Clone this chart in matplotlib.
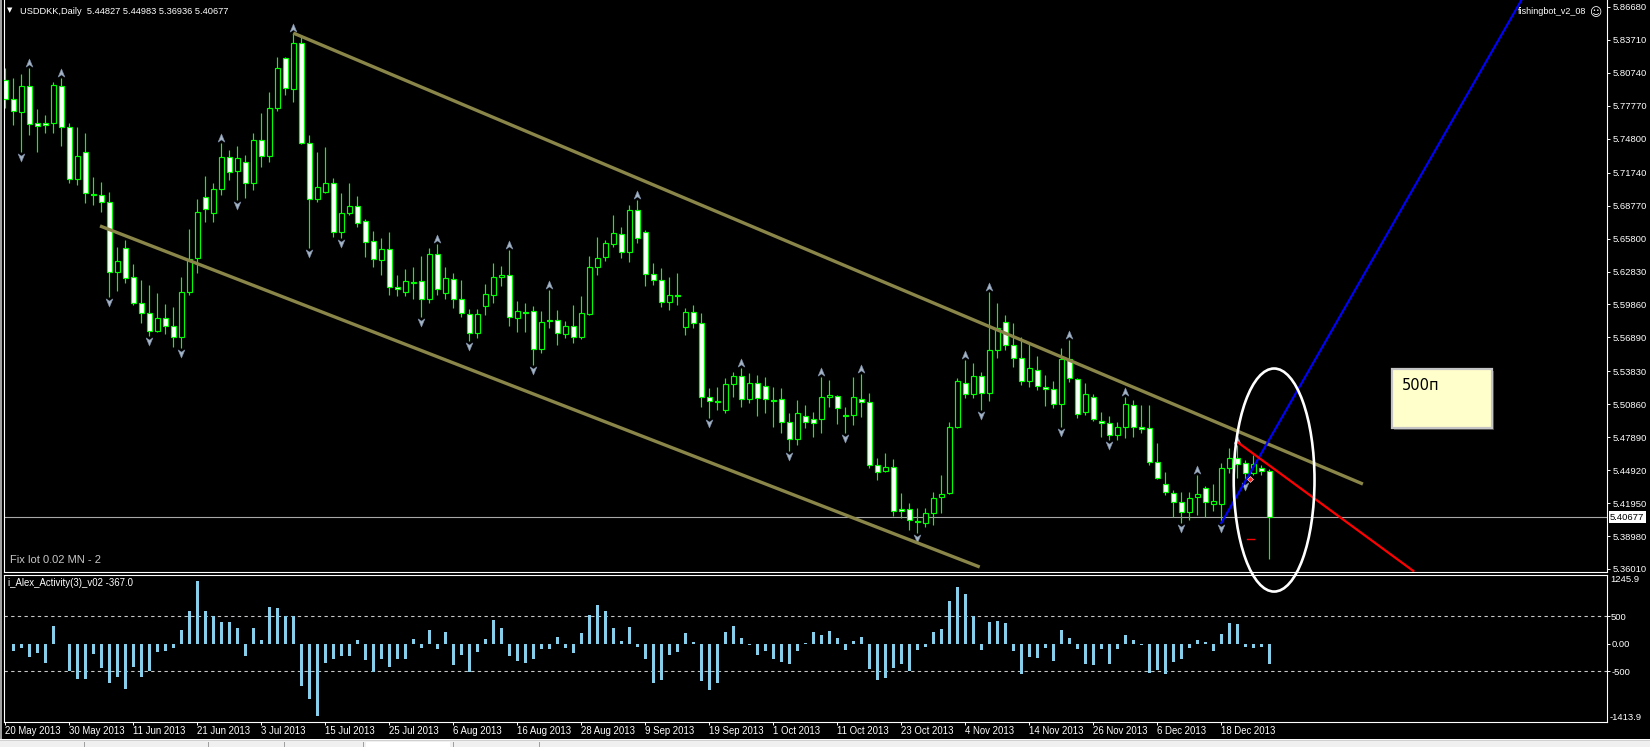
import numpy as np
import matplotlib
matplotlib.use("Agg")
import matplotlib.pyplot as plt
from matplotlib.patches import Ellipse, Rectangle, Polygon
from matplotlib.path import Path
import matplotlib.transforms as mtrans

plt.rcParams['font.family'] = ['Liberation Sans', 'DejaVu Sans']

# ---------------- data ----------------
symbol = "USDDKK,Daily"
opens = [5.8010, 5.7838, 5.7721, 5.7956, 5.7622, 5.7622, 5.7622, 5.7956, 5.7586, 5.7118,
         5.7361, 5.6982, 5.6973, 5.6910, 5.6280, 5.6496, 5.6235, 5.5999, 5.5909, 5.5747,
         5.5864, 5.5792, 5.5693, 5.6100, 5.6406, 5.6955, 5.6811, 5.7027, 5.7316, 5.7190,
         5.7271, 5.7082, 5.7469, 5.7325, 5.7757, 5.8208, 5.7929, 5.8343, 5.7442, 5.6937,
         5.7000, 5.7082, 5.6640, 5.6811, 5.6874, 5.6739, 5.6559, 5.6388, 5.6487, 5.6145,
         5.6100, 5.6181, 5.6199, 5.6037, 5.6442, 5.6091, 5.6217, 5.6037, 5.5900, 5.5729,
         5.5972, 5.6073, 5.6235, 5.6253, 5.5864, 5.5918, 5.5927, 5.5585, 5.5846, 5.5846,
         5.5720, 5.5792, 5.5693, 5.5900, 5.6325, 5.6415, 5.6532, 5.6622, 5.6460, 5.6838,
         5.6640, 5.6262, 5.6208, 5.6008, 5.6073, 5.5783, 5.5918, 5.5819, 5.5152, 5.5116,
         5.5035, 5.5269, 5.5341, 5.5134, 5.5278, 5.5251, 5.5125, 5.5134, 5.4927, 5.4773,
         5.4981, 5.4954, 5.4954, 5.5152, 5.5161, 5.4990, 5.4990, 5.5134, 5.5107, 5.4539,
         5.4485, 5.4521, 5.4142, 5.4142, 5.4034, 5.4016, 5.4106, 5.4250, 5.4286, 5.4882,
         5.5278, 5.5179, 5.5341, 5.5188, 5.5576, 5.5828, 5.5621, 5.5503, 5.5296, 5.5395,
         5.5242, 5.5224, 5.5089, 5.5494, 5.5314, 5.5017, 5.5152, 5.4936, 5.4918, 5.4809,
         5.4882, 5.5080, 5.4882, 5.4873, 5.4566, 5.4368, 5.4286, 5.4205, 5.4115, 5.4250,
         5.4331, 5.4187, 5.4187, 5.4512, 5.4602, 5.4557, 5.4467, 5.4512, 5.44827]
highs = [5.8119, 5.8028, 5.8064, 5.8119, 5.7748, 5.7694, 5.7992, 5.8028, 5.7622, 5.7586,
         5.7532, 5.7136, 5.7091, 5.7000, 5.6505, 5.6568, 5.6352, 5.6208, 5.6163, 5.6091,
         5.5990, 5.5963, 5.6235, 5.6667, 5.6937, 5.7145, 5.7082, 5.7442, 5.7379, 5.7415,
         5.7334, 5.7532, 5.7712, 5.7902, 5.8217, 5.8217, 5.8433, 5.8415, 5.7514, 5.7361,
         5.7406, 5.7127, 5.6991, 5.7082, 5.6964, 5.6757, 5.6649, 5.6586, 5.6640, 5.6253,
         5.6307, 5.6325, 5.6424, 5.6496, 5.6532, 5.6325, 5.6271, 5.6208, 5.5945, 5.5945,
         5.6172, 5.6361, 5.6334, 5.6478, 5.6017, 5.5999, 5.5972, 5.5927, 5.6118, 5.5936,
         5.5837, 5.5981, 5.6064, 5.6424, 5.6595, 5.6568, 5.6793, 5.6685, 5.6883, 5.6928,
         5.6658, 5.6361, 5.6316, 5.6235, 5.6271, 5.5954, 5.5981, 5.5909, 5.5233, 5.5242,
         5.5323, 5.5377, 5.5413, 5.5368, 5.5350, 5.5332, 5.5242, 5.5233, 5.5008, 5.5125,
         5.5080, 5.5017, 5.5332, 5.5305, 5.5170, 5.5062, 5.5332, 5.5359, 5.5188, 5.4602,
         5.4647, 5.4593, 5.4286, 5.4196, 5.4151, 5.4151, 5.4295, 5.4449, 5.4927, 5.5323,
         5.5485, 5.5458, 5.5377, 5.6100, 5.5999, 5.5891, 5.5819, 5.5693, 5.5639, 5.5521,
         5.5350, 5.5296, 5.5594, 5.5666, 5.5323, 5.5278, 5.5179, 5.5017, 5.4981, 5.4927,
         5.5152, 5.5125, 5.5080, 5.5080, 5.4737, 5.4476, 5.4313, 5.4295, 5.4295, 5.4449,
         5.4349, 5.4368, 5.4557, 5.4692, 5.4719, 5.4584, 5.4629, 5.4539, 5.44983]
lows = [5.7757, 5.7604, 5.7361, 5.7514, 5.7361, 5.7532, 5.7532, 5.7415, 5.7082, 5.7064,
        5.6901, 5.6883, 5.6820, 5.6055, 5.6109, 5.6181, 5.5981, 5.5819, 5.5702, 5.5738,
        5.5720, 5.5603, 5.5594, 5.6073, 5.6271, 5.6730, 5.6730, 5.6973, 5.7109, 5.6928,
        5.6946, 5.7018, 5.7226, 5.7271, 5.7730, 5.7874, 5.7811, 5.7433, 5.6496, 5.6910,
        5.6995, 5.6595, 5.6586, 5.6793, 5.6685, 5.6415, 5.6325, 5.6253, 5.6073, 5.6064,
        5.6064, 5.6037, 5.5873, 5.5999, 5.6073, 5.6037, 5.5954, 5.5873, 5.5657, 5.5684,
        5.5891, 5.5999, 5.6154, 5.5792, 5.5738, 5.5738, 5.5440, 5.5549, 5.5774, 5.5621,
        5.5684, 5.5639, 5.5675, 5.5891, 5.6253, 5.6379, 5.6505, 5.6406, 5.6370, 5.6541,
        5.6154, 5.6163, 5.5963, 5.5936, 5.5981, 5.5711, 5.5774, 5.5062, 5.4963, 5.5035,
        5.5008, 5.5152, 5.5062, 5.5098, 5.4981, 5.5008, 5.4882, 5.4828, 5.4665, 5.4719,
        5.4873, 5.4791, 5.4828, 5.5062, 5.4909, 5.4828, 5.4900, 5.4972, 5.4512, 5.4404,
        5.4476, 5.4079, 5.4061, 5.3953, 5.3926, 5.3980, 5.3998, 5.4106, 5.4280, 5.4873,
        5.5143, 5.5143, 5.5035, 5.5116, 5.5503, 5.5576, 5.5422, 5.5260, 5.5242, 5.5215,
        5.5071, 5.5053, 5.4882, 5.5287, 5.4963, 5.4990, 5.4936, 5.4791, 5.4764, 5.4764,
        5.4782, 5.4791, 5.4828, 5.4539, 5.4413, 5.4268, 5.4070, 5.4016, 5.4043, 5.4088,
        5.4070, 5.4124, 5.4016, 5.4467, 5.4422, 5.4395, 5.4449, 5.4449, 5.36936]
closes = [5.7838, 5.7730, 5.7956, 5.7613, 5.7595, 5.7604, 5.7965, 5.7586, 5.7118, 5.7325,
          5.6991, 5.6973, 5.6910, 5.6280, 5.6379, 5.6226, 5.5999, 5.5909, 5.5747, 5.5864,
          5.5792, 5.5693, 5.6100, 5.6397, 5.6820, 5.6847, 5.7027, 5.7316, 5.7181, 5.7307,
          5.7082, 5.7469, 5.7325, 5.7757, 5.8119, 5.7938, 5.8343, 5.7442, 5.6937, 5.7045,
          5.7082, 5.6640, 5.6811, 5.6874, 5.6721, 5.6550, 5.6397, 5.6487, 5.6145, 5.6127,
          5.6199, 5.6190, 5.6037, 5.6442, 5.6127, 5.6226, 5.6037, 5.5909, 5.5729, 5.5900,
          5.6082, 5.6235, 5.6253, 5.5873, 5.5927, 5.5909, 5.5585, 5.5828, 5.5837, 5.5729,
          5.5792, 5.5693, 5.5909, 5.6325, 5.6406, 5.6541, 5.6631, 5.6460, 5.6838, 5.6586,
          5.6262, 5.6208, 5.6008, 5.6073, 5.6064, 5.5918, 5.5819, 5.5152, 5.5116, 5.5107,
          5.5269, 5.5341, 5.5134, 5.5278, 5.5143, 5.5134, 5.5116, 5.4927, 5.4773, 5.5008,
          5.4927, 5.4918, 5.5152, 5.5170, 5.5053, 5.4981, 5.5152, 5.5107, 5.4539, 5.4476,
          5.4521, 5.4124, 5.4124, 5.4043, 5.4025, 5.4106, 5.4241, 5.4277, 5.4882, 5.5296,
          5.5179, 5.5341, 5.5188, 5.5576, 5.5774, 5.5621, 5.5503, 5.5296, 5.5413, 5.5251,
          5.5224, 5.5089, 5.5494, 5.5323, 5.4999, 5.5179, 5.4954, 5.4918, 5.4809, 5.4882,
          5.5089, 5.4882, 5.4864, 5.4566, 5.4422, 5.4295, 5.4205, 5.4115, 5.4241, 5.4277,
          5.4205, 5.4214, 5.4512, 5.4602, 5.4548, 5.4467, 5.4548, 5.4485, 5.40677]

activity = [np.nan, -121, -67, -230, -158, -352, 327, -6, -491, -642,
            -642, -182, -430, -703, -594, -812, -412, -594, -491, -145,
            -121, -67, 242, 600, 1133, 600, 509, 388, 388, 291,
            -218, 291, 61, 673, 655, 509, 509, -764, -1000, -1309,
            -339, -273, -218, -218, 73, -291, -503, -273, -418, -273,
            -273, 91, -67, 255, -91, 212, -382, -200, -503, -139,
            91, 436, 291, -212, -303, -339, -279, -85, -85, 127,
            -67, -158, 200, 527, 709, 600, 291, 55, 309, -48,
            -267, -703, -648, -194, -139, 200, 36, -667, -830, -703,
            218, 327, 109, -18, -194, -121, -267, -321, -358, -121,
            18, 218, 164, 236, 109, -103, 55, 127, -448, -648,
            -612, -430, -358, -485, -103, -48, 218, 273, 782, 1036,
            909, 503, -103, 400, 418, 382, -121, -539, -230, -248,
            -67, -303, 255, 109, -85, -358, -376, -85, -358, -85,
            164, 73, -12, -521, -467, -539, -321, -267, -67, 73,
            36, -121, 182, 382, 364, -48, -67, -48, -367.0]

date_labels = ['20 May 2013', '30 May 2013', '11 Jun 2013', '21 Jun 2013', '3 Jul 2013',
               '15 Jul 2013', '25 Jul 2013', '6 Aug 2013', '16 Aug 2013', '28 Aug 2013',
               '9 Sep 2013', '19 Sep 2013', '1 Oct 2013', '11 Oct 2013', '23 Oct 2013',
               '4 Nov 2013', '14 Nov 2013', '26 Nov 2013', '6 Dec 2013', '18 Dec 2013']
date_label_step = 8

price_ticks = [5.86680, 5.83710, 5.80740, 5.77770, 5.74800, 5.71740, 5.68770, 5.65800,
               5.62830, 5.59860, 5.56890, 5.53830, 5.50860, 5.47890, 5.44920, 5.41950,
               5.38980, 5.36010]
price_range = (5.35739, 5.87311)
act_range = (-1413.9, 1245.9)
act_levels = [500, -500]

# trend lines: (bar index, price)
upper_channel = [(36.0, 5.8433), (169.7, 5.4367)]
lower_channel = [(11.84, 5.6694), (121.8, 5.3619)]
blue_line = [(152.0, 5.4016), (190.0, 5.8792)]
red_line = [(154.0, 5.4746), (176.0, 5.3583)]

# ---------------- figure ----------------
W, H = 1650, 747
fig = plt.figure(figsize=(16.5, 7.47), dpi=100, facecolor='black')

def fx(px):
    return px / W

def fy(py):
    return 1 - py / H

ax = fig.add_axes([fx(4), fy(572), (1607 - 4) / W, 572 / H])
ax2 = fig.add_axes([fx(4), fy(722), (1607 - 4) / W, (722 - 575) / H])
ax.set_zorder(3)
ax2.set_zorder(1)

n = len(closes)
x = np.arange(n)
O = np.array(opens); Hh = np.array(highs); L = np.array(lows); C = np.array(closes)

xlim = (-0.1625, 200.21)
for a in (ax, ax2):
    a.set_facecolor('black')
    a.set_xlim(*xlim)
    for s in a.spines.values():
        s.set_color('white')
        s.set_linewidth(0.8)
ax.spines['top'].set_visible(False)
ax.set_ylim(*price_range)
ax2.set_ylim(*act_range)

lime = '#00FF00'
# wicks
ax.vlines(x, L, Hh, color=lime, lw=0.85, zorder=2)
# bodies
bull = C >= O
bottoms = np.minimum(O, C)
heights = np.maximum(np.abs(C - O), 0.00015)
fills = np.where(bull, 'black', 'white')
ax.bar(x, heights, bottom=bottoms, width=0.56, color=fills, edgecolor=lime,
       linewidth=0.85, zorder=3)

# fractals
up_idx = [i for i in range(2, n - 2)
          if Hh[i] > max(Hh[i - 2], Hh[i - 1]) and Hh[i] >= max(Hh[i + 1], Hh[i + 2])]
dn_idx = [i for i in range(2, n - 2)
          if L[i] < min(L[i - 2], L[i - 1]) and L[i] <= min(L[i + 1], L[i + 2])]
up_path = Path([(0, 1), (0.75, -0.8), (0, -0.3), (-0.75, -0.8), (0, 1)],
               [Path.MOVETO, Path.LINETO, Path.LINETO, Path.LINETO, Path.CLOSEPOLY])
dn_path = Path([(0, -1), (0.75, 0.8), (0, 0.3), (-0.75, 0.8), (0, -1)],
               [Path.MOVETO, Path.LINETO, Path.LINETO, Path.LINETO, Path.CLOSEPOLY])
t_up = mtrans.offset_copy(ax.transData, fig=fig, x=0, y=5, units='dots')
t_dn = mtrans.offset_copy(ax.transData, fig=fig, x=0, y=-5, units='dots')
ax.plot(x[up_idx], Hh[up_idx], ls='none', marker=up_path, ms=6.5, color='#A5B3C6',
        mec='#7D8FA8', mew=0.4, transform=t_up, zorder=4)
ax.plot(x[dn_idx], L[dn_idx], ls='none', marker=dn_path, ms=6.5, color='#A5B3C6',
        mec='#7D8FA8', mew=0.4, transform=t_dn, zorder=4)

# trend lines
olive = '#8A8548'
for seg in (upper_channel, lower_channel):
    ax.plot([p[0] for p in seg], [p[1] for p in seg], color=olive, lw=2.4,
            solid_capstyle='butt', zorder=5)
ax.plot([p[0] for p in blue_line], [p[1] for p in blue_line], color='#0000FF', lw=1.5, zorder=5)
ax.plot([p[0] for p in red_line], [p[1] for p in red_line], color='#FF0000', lw=1.6, zorder=5)

# current price line and label
ax.axhline(C[-1], color='#A8A8A8', lw=0.8, zorder=1)
ax.annotate(f"{C[-1]:.5f}", xy=(1.0, C[-1]), xycoords=('axes fraction', 'data'),
            xytext=(2.2, 0), textcoords='offset points', ha='left', va='center',
            color='black', fontsize=6.8, annotation_clip=False,
            bbox=dict(boxstyle='square,pad=0.15', fc='white', ec='none'))

# order marks
ax.plot([155.2, 156.1], [5.3871, 5.3871], color='#FF0000', lw=1.0, zorder=6)
ax.plot([155.6], [5.4410], marker='D', ms=3, color='#FF2020', mec='white', mew=0.4, zorder=6)

# price axis
ax.set_xticks([])
ax.yaxis.tick_right()
ax.set_yticks(price_ticks)
ax.set_yticklabels([f"{t:.5f}" for t in price_ticks])
ax.tick_params(axis='y', colors='white', labelcolor='white', labelsize=6.8,
               length=2.5, width=0.7, pad=1.5)

# ---------------- indicator ----------------
ax2.bar(x, activity, width=0.38, color='#87CEEB', zorder=2)
for lv in act_levels:
    ax2.axhline(lv, color='#C8C8C8', lw=0.8, ls=(0, (3, 3)), zorder=1)
ax2.yaxis.tick_right()
ax2.set_yticks([500, 0, -500])
ax2.set_yticklabels(['500', '0.00', '-500'])
ax2.tick_params(axis='y', colors='white', labelcolor='white', labelsize=6.8,
                length=2, width=0.7, pad=1)
for val, va in ((act_range[1], 'top'), (act_range[0], 'bottom')):
    ax2.annotate(f"{val:.1f}", xy=(1.0, val), xycoords=('axes fraction', 'data'),
                 xytext=(2.2, 0), textcoords='offset points', ha='left', va=va,
                 color='white', fontsize=6.8, annotation_clip=False)

tick_pos = np.arange(len(date_labels)) * date_label_step
ax2.set_xticks(tick_pos)
ax2.set_xticklabels(date_labels)
for lab in ax2.get_xticklabels():
    lab.set_ha('left')
ax2.tick_params(axis='x', colors='white', labelcolor='white', labelsize=6.9,
                length=2.2, width=0.7, pad=1.0)

# ---------------- annotations ----------------
ell = Ellipse((158.6, 5.4403), width=10.1, height=0.2011, fill=False, ec='white',
              lw=1.9, clip_on=False, zorder=10)
ax.add_patch(ell)
shadow = Rectangle((173.55, 5.4872 - 0.0022), 12.5, 0.0532, fc='#606060', ec='none',
                   clip_on=False, zorder=9, alpha=0.7)
ax.add_patch(shadow)
box = Rectangle((173.3, 5.4872), 12.5, 0.0532, fc='#FFFFCC', ec='#C4C4C4', lw=1.6,
                clip_on=False, zorder=10)
ax.add_patch(box)
ax.text(174.6, 5.5251, "500п", fontsize=10.5, color='black', va='center', ha='left',
        zorder=11, family=['DejaVu Sans'])

# title / labels
fig.text(fx(7), fy(10.5), '▼', color='white', fontsize=5, va='center', ha='left',
         family=['DejaVu Sans'])
fig.text(fx(20), fy(11), f"{symbol}  {O[-1]:.5f} {Hh[-1]:.5f} {L[-1]:.5f} {C[-1]:.5f}",
         color='white', fontsize=6.7, va='center', ha='left')
fig.text(fx(1518), fy(12), 'fishingbot_v2_08', color='white', fontsize=6.5,
         va='center', ha='left')
fig.text(fx(1589), fy(12.5), '☺', color='white', fontsize=8.5, va='center', ha='left',
         family=['DejaVu Sans'])
fig.text(fx(10), fy(560), 'Fix lot 0.02 MN - 2', color='#C8C8C8', fontsize=8,
         va='center', ha='left')
fig.text(fx(8), fy(583), f"i_Alex_Activity(3)_v02 {activity[-1]:.1f}", color='white',
         fontsize=6.9, va='center', ha='left')

# chart shift marker
fig.add_artist(Polygon([[fx(1280), fy(0)], [fx(1290), fy(0)], [fx(1285), fy(6)]],
                       closed=True, fc='#909090', ec='none', transform=fig.transFigure))

# window frame bits
fig.add_artist(Rectangle((0, 0), fx(2), 1, fc='#A0A0A0', ec='none', transform=fig.transFigure))
fig.add_artist(Rectangle((0, 0), 1, 6 / H, fc='#F0F0F0', ec='none', transform=fig.transFigure))
fig.add_artist(Rectangle((0, 6 / H), 1, 1.2 / H, fc='#D0D0D0', ec='none', transform=fig.transFigure))
fig.add_artist(Rectangle((0, 7.5 / H), 1, 1 / H, fc='white', ec='none', transform=fig.transFigure))
for tx in (84, 208, 284, 363, 453, 539):
    fig.add_artist(Rectangle((fx(tx), 0), 1 / W, 5 / H, fc='#A0A0A0', ec='none',
                             transform=fig.transFigure))
fig.add_artist(Rectangle((fx(366), 0), 84 / W, 5 / H, fc='white', ec='none',
                         transform=fig.transFigure))

fig.savefig('out.png', dpi=100, facecolor='black')
